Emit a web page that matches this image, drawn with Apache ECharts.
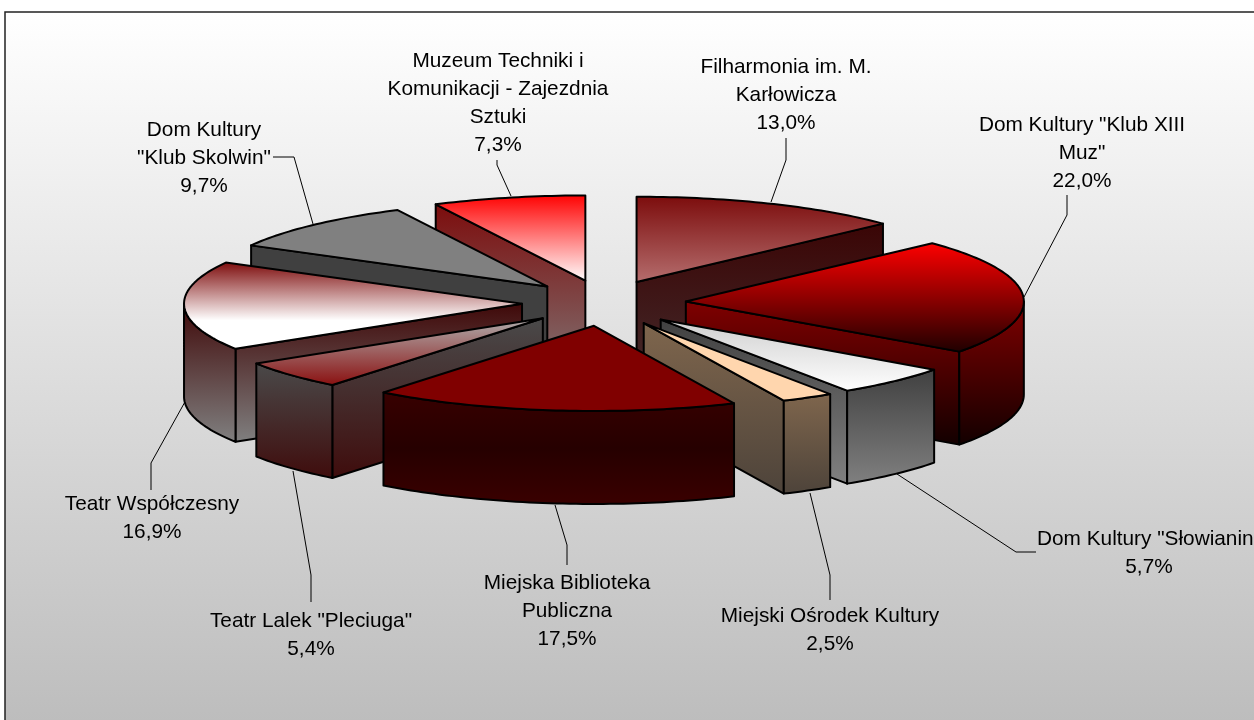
<!DOCTYPE html>
<html><head><meta charset="utf-8">
<style>html,body{margin:0;padding:0;background:#fff}#c{width:1254px;height:720px}</style>
<script src="https://cdn.jsdelivr.net/npm/echarts@6/dist/echarts.min.js"></script>
</head><body><div id="c"></div>
<script>
// ---- data ----
const categories = ['Filharmonia im. M.\nKarłowicza','Dom Kultury "Klub XIII\nMuz"','Dom Kultury "Słowianin"','Miejski Ośrodek Kultury','Miejska Biblioteka\nPubliczna','Teatr Lalek "Pleciuga"','Teatr Współczesny','Dom Kultury\n"Klub Skolwin"','Muzeum Techniki i\nKomunikacji - Zajezdnia\nSztuki'];
const shares = [13.0,22.0,5.7,2.5,17.5,5.4,16.9,9.7,7.3];

// ---- face styles: [top-face stops], [side-face stops] ----
const topStyles = [
  ['#7c0c0c','#b56e6e'],['#ff0000','#1e0000'],['#cfcfcf','#ffffff'],['#ffd6ae','#ffd6ae'],
  ['#800000','#800000'],['#b0b0b0','#8a0f0f'],['#7c0a0a','#be8484','#ffffff','#ffffff'],['#808080','#808080'],['#ff0000','#ffffff']
];
const sideStyles = [
  ['#3a0505','#43292a'],['#800000','#120000'],['#404040','#808080'],['#7f664d','#4d433a'],
  ['#380000','#260000','#3a0000'],['#4a4a4a','#3f0c0c'],['#3f0808','#808080'],['#404040','#404040'],['#7c0c0c','#807272']
];

// ---- geometry of the projected pie ----
const geo = {cx:604, cy:303, R:338, k:0.252, explode:82, explodeK:0.28, h:93};

// ---- label and leader placement ----
const labelAnchors = [[786,95],[1082,153.5],[1149,553.5],[830,630.5],[567,611.5],[311,635.5],[152,518.5],[204,158.5],[498,103]];
const leaderPaths = [
  [[771,202],[786,160],[786,138]],[[1024,297],[1067,215],[1067,195]],[[897,474],[1016,552],[1036,552]],
  [[810,493],[830,575],[830,600]],[[555,505],[567,545],[567,565]],[[293,471],[311,575],[311,602]],
  [[186,400],[151,463],[151,490]],[[313,224],[294,157],[273,157]],[[511,196],[497,165],[497,160]]
];

const total = shares.reduce((a,b)=>a+b,0);
let run = 0;
const arcs = shares.map(v=>{const a=run/total*Math.PI*2; run+=v; return [a,run/total*Math.PI*2];});
const paintOrder = arcs.map((a,i)=>i).sort((p,q)=>Math.cos((arcs[q][0]+arcs[q][1])/2)-Math.cos((arcs[p][0]+arcs[p][1])/2));

const grad = stops => new echarts.graphic.LinearGradient(0,0,0,1,stops.map((c,i)=>({offset:stops.length>1?i/(stops.length-1):0,color:c})));
const lineStyle = {stroke:'#000',lineWidth:2,lineJoin:'round'};

function face(points, stops){
  return {type:'polygon',shape:{points},style:Object.assign({fill:grad(stops)},lineStyle)};
}
function renderSlice(params, api){
  const i = api.value(1);
  const [a1,a2] = arcs[i];
  const mid=(a1+a2)/2;
  const ax = geo.cx+geo.explode*Math.sin(mid), ay = geo.cy-geo.explode*geo.explodeK*Math.cos(mid);
  const rim = a=>[ax+geo.R*Math.sin(a), ay-geo.R*geo.k*Math.cos(a)];
  const down = p=>[p[0],p[1]+geo.h];
  const arcPts=(s,e)=>{const n=Math.max(2,Math.ceil((e-s)/0.02));const o=[];for(let j=0;j<=n;j++)o.push(rim(s+(e-s)*j/n));return o;};
  const children=[];
  const apex=[ax,ay];
  // radial walls
  if(Math.sin(a2)>0.001){const p=rim(a2);children.push(face([apex,p,down(p),down(apex)],sideStyles[i]));}
  if(Math.sin(a1)<-0.001){const p=rim(a1);children.push(face([apex,p,down(p),down(apex)],sideStyles[i]));}
  // outer wall: front half of the rim only
  const s=Math.max(a1,Math.PI/2), e=Math.min(a2,Math.PI*1.5);
  if(e>s){const t=arcPts(s,e);children.push(face(t.concat(t.map(down).reverse()),sideStyles[i]));}
  // top face
  children.push(face([apex].concat(arcPts(a1,a2)),topStyles[i]));
  return {type:'group',children};
}
function renderLabel(params, api){
  const i = api.value(1);
  const [x,y]=labelAnchors[i];
  const txt=categories[i]+'\n'+api.value(0).toFixed(1).replace('.',',')+'%';
  return {type:'group',children:[
    {type:'polyline',shape:{points:leaderPaths[i]},style:{stroke:'#000',lineWidth:1,fill:null}},
    {type:'text',style:{x,y,text:txt,fill:'#000',font:'20.8px "Liberation Sans", Arial, sans-serif',lineHeight:28,textAlign:'center',textVerticalAlign:'middle',align:'center',verticalAlign:'middle'}}
  ]};
}
const chart = echarts.init(document.getElementById('c'),null,{renderer:'canvas'});
chart.setOption({
  animation:false,
  backgroundColor:'#fff',
  graphic:[{type:'rect',silent:true,z:-10,shape:{x:5,y:12,width:1270,height:730},
    style:{fill:new echarts.graphic.LinearGradient(0,0,0,1,[{offset:0,color:'#ffffff'},{offset:0.97,color:'#bdbdbd'},{offset:1,color:'#bdbdbd'}]),stroke:'#222',lineWidth:1.5}}],
  series:[
    {type:'custom',coordinateSystem:'none',silent:true,z:2,renderItem:renderLabel,data:shares.map((v,i)=>[v,i])},
    {type:'custom',coordinateSystem:'none',silent:true,z:3,renderItem:renderSlice,data:paintOrder.map(i=>[shares[i],i])}
  ]
});
</script></body></html>
